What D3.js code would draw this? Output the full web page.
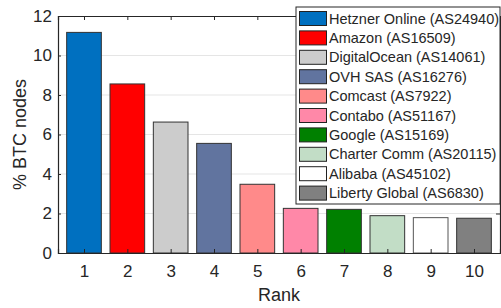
<!DOCTYPE html>
<html>
<head>
<meta charset="utf-8">
<script src="https://cdn.jsdelivr.net/npm/d3@7"></script>
<style>
  body { margin: 0; background: #fff; }
  text { font-family: "Liberation Sans", Arial, sans-serif; fill: #262626; }
</style>
</head>
<body>
<svg id="chart"></svg>
<script>
const ranks = [1, 2, 3, 4, 5, 6, 7, 8, 9, 10];
const providers = ["Hetzner Online (AS24940)", "Amazon (AS16509)", "DigitalOcean (AS14061)",
  "OVH SAS (AS16276)", "Comcast (AS7922)", "Contabo (AS51167)", "Google (AS15169)",
  "Charter Comm (AS20115)", "Alibaba (AS45102)", "Liberty Global (AS6830)"];
const shares = [11.17, 8.56, 6.63, 5.55, 3.48, 2.26, 2.21, 1.89, 1.79, 1.76];
const colors = ["#0070c0", "#ff0000", "#cccccc", "#61749f", "#ff8a8a", "#ff88a8",
  "#008000", "#c2ddc6", "#ffffff", "#808080"];
const yTicks = [0, 2, 4, 6, 8, 10, 12];

const width = 501, height = 308;
const margin = {top: 16, right: 1, bottom: 55, left: 58};
const ink = "#262626";

const svg = d3.select("#chart")
  .attr("width", width)
  .attr("height", height);

const x = d3.scaleLinear()
  .domain([0.4, 10.6])
  .range([margin.left, width - margin.right]);

const y = d3.scaleLinear()
  .domain([0, 12])
  .range([height - margin.bottom, margin.top]);

const step = x(2) - x(1);
const barW = step * 0.8;

// grid
svg.append("g")
  .selectAll("line")
  .data(yTicks.slice(1, -1))
  .enter().append("line")
    .attr("x1", margin.left).attr("x2", width - margin.right)
    .attr("y1", d => y(d)).attr("y2", d => y(d))
    .attr("stroke", "#e5e5e5")
    .attr("stroke-width", 1);

// bars
svg.append("g")
  .selectAll("rect")
  .data(shares)
  .enter().append("rect")
    .attr("x", (d, i) => x(ranks[i]) - barW / 2)
    .attr("y", d => y(d))
    .attr("width", barW)
    .attr("height", d => y(0) - y(d))
    .attr("fill", (d, i) => colors[i])
    .attr("stroke", (d, i) => i === 8 ? "#555" : "#333")
    .attr("stroke-width", 1);

// axes box with inward ticks
const xAxis = d3.axisBottom(x).tickValues(ranks).tickSize(-4).tickPadding(12).tickFormat(d3.format("d"));
const xTop = d3.axisTop(x).tickValues(ranks).tickSize(-4).tickFormat("");
const yAxis = d3.axisLeft(y).tickValues(yTicks).tickSize(-3).tickPadding(6);
const yRight = d3.axisRight(y).tickValues(yTicks).tickSize(-4).tickFormat("");

function styleAxis(g) {
  g.select(".domain").attr("stroke", ink).attr("stroke-width", 1.2);
  g.selectAll(".tick line").attr("stroke", ink);
  g.selectAll("text").attr("font-size", 17).attr("fill", ink)
    .attr("font-family", "'Liberation Sans', Arial, sans-serif");
}

svg.append("g").attr("transform", `translate(0,${y(0)})`).call(xAxis).call(styleAxis);
svg.append("g").attr("transform", `translate(0,${y(12)})`).call(xTop).call(styleAxis);
svg.append("g").attr("transform", `translate(${margin.left},0)`).call(yAxis).call(styleAxis);
svg.append("g").attr("transform", `translate(${width - margin.right},0)`).call(yRight).call(styleAxis);

// axis titles
svg.append("text")
  .attr("x", (margin.left + width - margin.right) / 2)
  .attr("y", 301)
  .attr("text-anchor", "middle")
  .attr("font-size", 18)
  .text("Rank");

svg.append("text")
  .attr("transform", `translate(26,${y(6)}) rotate(-90)`)
  .attr("text-anchor", "middle")
  .attr("font-size", 18)
  .text("% BTC nodes");

// legend
const legX = 296, legY = 7, rowH = 19.4;
const legend = svg.append("g").attr("transform", `translate(${legX},${legY})`);
legend.append("rect")
  .attr("x", 0).attr("y", 0)
  .attr("width", width - legX - 1)
  .attr("height", providers.length * rowH + 3)
  .attr("fill", "#fff")
  .attr("stroke", ink)
  .attr("stroke-width", 1);

const rows = legend.selectAll("g.row")
  .data(providers)
  .enter().append("g")
    .attr("class", "row")
    .attr("transform", (d, i) => `translate(0,${4 + i * rowH})`);

rows.append("rect")
  .attr("x", 3.5).attr("y", 0.5)
  .attr("width", 27).attr("height", 14)
  .attr("fill", (d, i) => colors[i])
  .attr("stroke", "#222")
  .attr("stroke-width", 1);

rows.append("text")
  .attr("x", 33)
  .attr("y", 7.5)
  .attr("dy", "0.35em")
  .attr("font-size", 14.5)
  .text(d => d);
</script>
</body>
</html>
